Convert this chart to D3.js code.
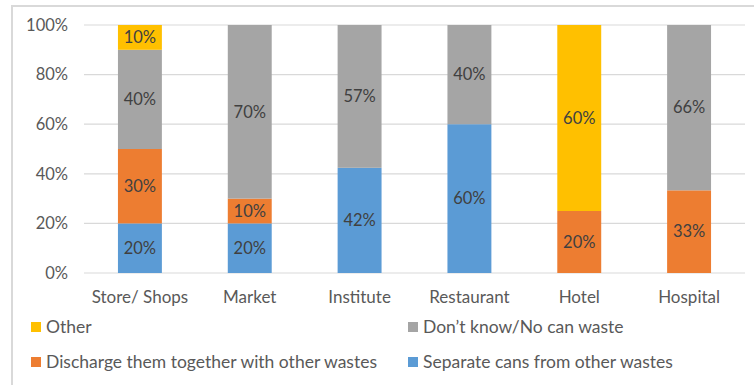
<!DOCTYPE html>
<html><head><meta charset="utf-8">
<script src="https://cdn.jsdelivr.net/npm/d3@7"></script>
<style>
html,body{margin:0;padding:0;background:#fff;}
svg{display:block;font-family:Lato,"Open Sans",sans-serif;}
</style></head>
<body><svg id="c" width="754" height="385"></svg>
<script>
const categories = ["Store/ Shops","Market","Institute","Restaurant","Hotel","Hospital"];
const separateCans = [20,20,42,60,0,0];
const discharge = [30,10,0,0,20,33];
const dontKnow = [40,70,57,40,0,66];
const other = [10,0,0,0,60,0];
const yTicks = [0,0.2,0.4,0.6,0.8,1];

const seriesDefs = [
  {key:"sep", name:"Separate cans from other wastes", values:separateCans, color:"#5B9BD5"},
  {key:"dis", name:"Discharge them together with other wastes", values:discharge, color:"#ED7D31"},
  {key:"dk", name:"Don\u2019t know/No can waste", values:dontKnow, color:"#A5A5A5"},
  {key:"oth", name:"Other", values:other, color:"#FFC000"}
];

const rows = categories.map((c,i)=>{const r={cat:c}; seriesDefs.forEach(s=>r[s.key]=s.values[i]); return r;});
const stack = d3.stack().keys(seriesDefs.map(s=>s.key)).offset(d3.stackOffsetExpand);
const stacked = stack(rows);

const svg = d3.select("#c");
svg.append("path").attr("d","M12,385 L12,6 L754,6").attr("fill","none").attr("stroke","#d9d9d9").attr("stroke-width",2);

const x = d3.scaleBand().domain(categories).range([85,744]).paddingInner(0.6).paddingOuter(0.3);
const y = d3.scaleLinear().domain([0,1]).range([273,25]);

svg.append("g").selectAll("line").data(yTicks).join("line")
  .attr("x1",84).attr("x2",745).attr("y1",d=>y(d)).attr("y2",d=>y(d))
  .attr("stroke","#d9d9d9").attr("stroke-width",1.2);

const yAxis = d3.axisLeft(y).tickValues(yTicks).tickFormat(d3.format(".0%")).tickSize(0).tickPadding(0);
const ya = svg.append("g").attr("transform","translate(68,0)").call(yAxis);
ya.select(".domain").remove();
ya.selectAll("text").attr("fill","#595959").attr("font-size",16.5).attr("font-family","Lato,sans-serif");

const g = svg.append("g");
stacked.forEach((layer,li)=>{
  const s = seriesDefs[li];
  g.append("g").selectAll("rect").data(layer).join("rect")
    .attr("x",d=>x(d.data.cat)).attr("width",x.bandwidth())
    .attr("y",d=>y(d[1])).attr("height",d=>y(d[0])-y(d[1]))
    .attr("fill",s.color);
  g.append("g").selectAll("text").data(layer.filter(d=>d.data[s.key]>0)).join("text")
    .attr("x",d=>x(d.data.cat)+x.bandwidth()/2)
    .attr("y",d=>(y(d[0])+y(d[1]))/2)
    .attr("dy","0.35em").attr("text-anchor","middle")
    .attr("font-size",16.5).attr("fill","#404040")
    .text(d=>d.data[s.key]+"%");
});

const xAxis = d3.axisBottom(x).tickSize(0).tickPadding(0);
const xa = svg.append("g").attr("transform","translate(0,291)").call(xAxis);
xa.select(".domain").remove();
xa.selectAll("text").attr("fill","#595959").attr("font-size",17).attr("font-family","Lato,sans-serif");

const legendItems = [
  {s:seriesDefs[3], x:31, y:327},
  {s:seriesDefs[2], x:408, y:327},
  {s:seriesDefs[1], x:31, y:362},
  {s:seriesDefs[0], x:408, y:362}
];
const lg = svg.append("g");
legendItems.forEach(it=>{
  lg.append("rect").attr("x",it.x).attr("y",it.y-5).attr("width",10).attr("height",10).attr("fill",it.s.color);
  lg.append("text").attr("x",it.x+15).attr("y",it.y).attr("dy","0.35em")
    .attr("font-size",17.5).attr("fill","#595959").text(it.s.name);
});
</script></body></html>
